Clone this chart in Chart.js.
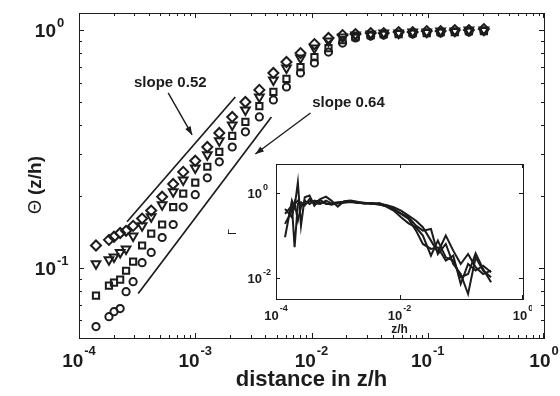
<!DOCTYPE html>
<html>
<head>
<meta charset="utf-8">
<script src="https://cdn.jsdelivr.net/npm/chart.js@4.4.1/dist/chart.umd.min.js"></script>
<style>
  html, body { margin: 0; padding: 0; background: #fff; }
  #wrap { position: relative; width: 560px; height: 396px; }
  #main { position: absolute; left: 0; top: 0; }
  #inset { position: absolute; left: 222px; top: 158px; }
</style>
</head>
<body>
<div id="wrap">
  <canvas id="main" width="560" height="396"></canvas>
  <canvas id="inset" width="310" height="182"></canvas>
</div>
<script>
// --- Data: distance z/h and the four Theta profiles ---
const zh = [1.40e-4, 1.81e-4, 2.00e-4, 2.26e-4, 2.54e-4, 2.92e-4, 3.49e-4, 4.18e-4, 5.19e-4, 6.46e-4, 7.88e-4,
            1.00e-3, 1.27e-3, 1.61e-3, 2.08e-3, 2.70e-3, 3.56e-3, 4.70e-3, 6.09e-3, 8.04e-3,
            1.06e-2, 1.40e-2, 1.85e-2, 2.39e-2, 3.23e-2, 4.18e-2, 5.62e-2, 7.42e-2, 9.80e-2,
            0.129, 0.171, 0.226, 0.304];

const thetaCircle = [0.0565, 0.0622, 0.0653, 0.0673, 0.0793, 0.0873, 0.105, 0.116, 0.134, 0.152, 0.180,
                     0.203, 0.239, 0.279, 0.322, 0.373, 0.431, 0.508, 0.576, 0.660,
                     0.727, 0.808, 0.882, 0.926, 0.944, 0.953, 0.962, 0.962, 0.971, 0.971, 0.981, 0.981, 0.990];
const thetaSquare = [0.0763, 0.0840, 0.0865, 0.0890, 0.0971, 0.106, 0.124, 0.139, 0.152, 0.180, 0.205,
                     0.228, 0.266, 0.307, 0.359, 0.411, 0.479, 0.549, 0.623, 0.699,
                     0.770, 0.840, 0.908, 0.935, 0.953, 0.962, 0.962, 0.971, 0.971, 0.981, 0.981, 0.990, 0.990];
const thetaTriangle = [0.104, 0.108, 0.111, 0.116, 0.120, 0.136, 0.150, 0.164, 0.184, 0.209, 0.234,
                       0.263, 0.299, 0.342, 0.399, 0.461, 0.523, 0.617, 0.692, 0.763,
                       0.840, 0.899, 0.935, 0.953, 0.962, 0.971, 0.971, 0.981, 0.981, 0.990, 0.990, 1.00, 1.00];
const thetaDiamond = [0.124, 0.131, 0.135, 0.140, 0.143, 0.150, 0.161, 0.174, 0.199, 0.225, 0.253,
                      0.282, 0.322, 0.369, 0.431, 0.498, 0.560, 0.660, 0.734, 0.800,
                      0.873, 0.926, 0.953, 0.962, 0.971, 0.971, 0.981, 0.981, 0.990, 0.990, 1.00, 1.00, 1.01];

// reference power-law segments
const slope052X = [2.59e-4, 2.21e-3];
const slope052Y = [0.156, 0.523];
const slope064X = [3.23e-4, 4.52e-3];
const slope064Y = [0.0778, 0.431];

// inset: Gamma for the same four profiles
const gammaA = [0.0906, 0.660, 0.460, 1.78, 0.170, 0.791, 0.866, 0.504, 0.722, 0.820, 0.660,
                0.477, 0.637, 0.660, 0.625, 0.571, 0.551, 0.582, 0.504, 0.420,
                0.332, 0.268, 0.170, 0.130, 0.142, 0.0367, 0.0631, 0.0213, 0.0124, 0.0042, 0.0306, 0.0149, 0.0104];
const gammaB = [0.321, 0.504, 0.0527, 0.551, 0.603, 0.504, 0.722, 0.571, 0.551, 0.660, 0.571,
                0.603, 0.625, 0.637, 0.603, 0.582, 0.571, 0.551, 0.522, 0.460,
                0.384, 0.293, 0.223, 0.156, 0.0756, 0.0402, 0.0991, 0.0440, 0.0213, 0.0367, 0.0178, 0.0124, 0.0149];
const gammaC = [0.187, 0.384, 0.603, 0.223, 0.460, 0.660, 0.551, 0.660, 0.603, 0.571, 0.531,
                0.571, 0.614, 0.625, 0.592, 0.561, 0.582, 0.541, 0.477, 0.384,
                0.268, 0.193, 0.156, 0.0991, 0.0335, 0.0756, 0.0306, 0.0256, 0.0104, 0.0124, 0.0380, 0.0163, 0.0079];
const gammaD = [0.420, 0.268, 0.551, 0.660, 0.504, 0.551, 0.637, 0.603, 0.684, 0.551, 0.551,
                0.571, 0.592, 0.614, 0.582, 0.592, 0.561, 0.531, 0.494, 0.398,
                0.321, 0.245, 0.130, 0.0631, 0.0481, 0.0527, 0.0256, 0.0335, 0.0072, 0.0213, 0.0149, 0.0195, 0.0136];

// tick decades (exponents of 10)
const xTickExps = [-4, -3, -2, -1, 0];
const yTickExps = [-1, 0];
const insetXTickExps = [-4, -2, 0];
const insetYTickExps = [-2, 0];

// annotation texts with arrows, in data coordinates
const slopeNotes = [
    { text: 'slope 0.52', at: [6.1e-4, 0.576], from: [5.85e-4, 0.544], to: [9.4e-4, 0.362] },
    { text: 'slope 0.64', at: [2.08e-2, 0.475], from: [9.8e-3, 0.448], to: [3.29e-3, 0.301] },
];

const INK = '#1c1c1c';
const FONT = '"Liberation Sans", Arial, Helvetica, sans-serif';

const toPoints = (xs, ys) => xs.map((x, i) => ({ x: x, y: ys[i] }));

// log axis whose only visible part is its border line; labels and ticks come from the plugins
function frameAxis(position, axis, min, max) {
    return {
        type: 'logarithmic',
        position: position,
        axis: axis,
        min: min,
        max: max,
        grid: { display: false, drawTicks: false },
        ticks: { display: false },
        border: { display: true, color: INK, width: 1 },
        title: { display: false },
    };
}

// "10" with a raised exponent
function drawPow(ctx, exp, x, y, baseSize, expSize, raise, align) {
    const base = '10';
    const sup = String(exp);
    ctx.font = `bold ${baseSize}px ${FONT}`;
    const wb = ctx.measureText(base).width;
    ctx.font = `bold ${expSize}px ${FONT}`;
    const we = ctx.measureText(sup).width;
    let start = x;
    if (align === 'center') start = x - (wb + we + 1) / 2;
    if (align === 'right') start = x - wb;
    ctx.textAlign = 'left';
    ctx.textBaseline = 'alphabetic';
    ctx.font = `bold ${baseSize}px ${FONT}`;
    ctx.fillText(base, start, y);
    ctx.font = `bold ${expSize}px ${FONT}`;
    ctx.fillText(sup, start + wb + 1, y - raise);
}

// inward log ticks along all four sides
function drawTicks(ctx, a, xs, ys, xExps, yExps, majorLen, minorLen, withMinor) {
    const L = Math.round(a.left), R = Math.round(a.right) - 1;
    const T = Math.round(a.top), B = Math.round(a.bottom) - 1;
    ctx.beginPath();
    xExps.forEach(k => {
        for (let m = 1; m <= 9; m++) {
            if (m > 1 && !withMinor) break;
            const v = m * Math.pow(10, k);
            if (v < xs.min || v > xs.max) continue;
            const px = Math.min(R, Math.round(xs.getPixelForValue(v))) + 0.5;
            const len = m === 1 ? majorLen : minorLen;
            ctx.moveTo(px, B + 1); ctx.lineTo(px, B + 1 - len);
            ctx.moveTo(px, T); ctx.lineTo(px, T + len);
        }
    });
    yExps.forEach(k => {
        for (let m = 1; m <= 9; m++) {
            if (m > 1 && !withMinor) break;
            const v = m * Math.pow(10, k);
            if (v < ys.min || v > ys.max) continue;
            const py = Math.min(B, Math.round(ys.getPixelForValue(v))) + 0.5;
            const len = m === 1 ? majorLen : minorLen;
            ctx.moveTo(L, py); ctx.lineTo(L + len, py);
            ctx.moveTo(R + 1, py); ctx.lineTo(R + 1 - len, py);
        }
    });
    ctx.stroke();
}

function drawArrow(ctx, x0, y0, x1, y1) {
    const ang = Math.atan2(y1 - y0, x1 - x0);
    const head = 9;
    ctx.beginPath();
    ctx.moveTo(x0, y0);
    ctx.lineTo(x1, y1);
    ctx.stroke();
    ctx.beginPath();
    ctx.moveTo(x1, y1);
    ctx.lineTo(x1 - head * Math.cos(ang - 0.35), y1 - head * Math.sin(ang - 0.35));
    ctx.lineTo(x1 - head * Math.cos(ang + 0.35), y1 - head * Math.sin(ang + 0.35));
    ctx.closePath();
    ctx.fill();
}

// --- Main plot ticks, labels and notes ---
const mainLabels = {
    id: 'mainLabels',
    afterDraw(chart) {
        const { ctx, chartArea: a, scales: { x, y } } = chart;
        ctx.save();
        ctx.strokeStyle = INK;
        ctx.fillStyle = INK;
        ctx.lineWidth = 1;
        drawTicks(ctx, a, x, y, [-4, -3, -2, -1, 0], [-2, -1, 0], 5, 3, true);

        xTickExps.forEach(k => {
            drawPow(ctx, k, x.getPixelForValue(Math.pow(10, k)), a.bottom + 29, 19, 13, 12, 'center');
        });
        yTickExps.forEach(k => {
            drawPow(ctx, k, a.left - 23, y.getPixelForValue(Math.pow(10, k)) + 7, 19, 13, 10, 'right');
        });

        ctx.textAlign = 'center';
        ctx.font = `bold 22px ${FONT}`;
        ctx.fillText('distance in z/h', (a.left + a.right) / 2, 386);

        // y-axis title
        ctx.save();
        ctx.translate(41, 185);
        ctx.rotate(-Math.PI / 2);
        ctx.font = `18px ${FONT}`;
        const wTheta = ctx.measureText('\u0398 ').width;
        ctx.font = `bold 19px ${FONT}`;
        const wRest = ctx.measureText('(z/h)').width;
        const s = -(wTheta + wRest) / 2;
        ctx.textAlign = 'left';
        ctx.font = `18px ${FONT}`;
        ctx.fillText('\u0398 ', s, 0);
        ctx.font = `bold 19px ${FONT}`;
        ctx.fillText('(z/h)', s + wTheta, 0);
        ctx.restore();

        ctx.lineWidth = 1.4;
        ctx.textAlign = 'center';
        ctx.font = `bold 15px ${FONT}`;
        slopeNotes.forEach(n => {
            ctx.fillText(n.text, x.getPixelForValue(n.at[0]), y.getPixelForValue(n.at[1]));
            drawArrow(ctx,
                x.getPixelForValue(n.from[0]), y.getPixelForValue(n.from[1]),
                x.getPixelForValue(n.to[0]), y.getPixelForValue(n.to[1]));
        });
        ctx.restore();
    }
};

const marker = {
    showLine: false,
    borderColor: INK,
    backgroundColor: 'rgba(0,0,0,0)',
    pointBorderWidth: 2,
};

new Chart(document.getElementById('main'), {
    type: 'scatter',
    data: {
        datasets: [
            { ...marker, data: toPoints(zh, thetaCircle), pointStyle: 'circle', pointRadius: 3.6 },
            { ...marker, data: toPoints(zh, thetaSquare), pointStyle: 'rect', pointRadius: 4.4 },
            { ...marker, data: toPoints(zh, thetaTriangle), pointStyle: 'triangle', pointRotation: 180, pointRadius: 5 },
            { ...marker, data: toPoints(zh, thetaDiamond), pointStyle: 'rectRot', pointRadius: 5 },
            { data: toPoints(slope052X, slope052Y), showLine: true, borderColor: INK, borderWidth: 1.7, pointRadius: 0 },
            { data: toPoints(slope064X, slope064Y), showLine: true, borderColor: INK, borderWidth: 1.7, pointRadius: 0 },
        ]
    },
    options: {
        responsive: false,
        animation: false,
        layout: { padding: { left: 79, right: 16, top: 13, bottom: 58 } },
        plugins: { legend: { display: false }, tooltip: { enabled: false } },
        scales: {
            x: frameAxis('bottom', 'x', 1e-4, 1),
            xTop: frameAxis('top', 'x', 1e-4, 1),
            y: frameAxis('left', 'y', 0.0506, 1.18),
            yRight: frameAxis('right', 'y', 0.0506, 1.18),
        }
    },
    plugins: [mainLabels]
});

// --- Inset: Gamma vs z/h ---
const insetFrame = {
    id: 'insetFrame',
    beforeDatasetsDraw(chart) {
        const { ctx, chartArea: a } = chart;
        ctx.save();
        ctx.fillStyle = '#fff';
        ctx.fillRect(a.left + 1, a.top + 1, a.right - a.left - 2, a.bottom - a.top - 2);
        ctx.restore();
    },
    afterDraw(chart) {
        const { ctx, chartArea: a, scales: { x, y } } = chart;
        ctx.save();
        ctx.strokeStyle = INK;
        ctx.fillStyle = INK;
        ctx.lineWidth = 1;
        drawTicks(ctx, a, x, y, insetXTickExps, insetYTickExps, 4, 2, false);

        insetXTickExps.forEach(k => {
            drawPow(ctx, k, x.getPixelForValue(Math.pow(10, k)), a.bottom + 21, 13, 9, 9, 'center');
        });
        insetYTickExps.forEach(k => {
            drawPow(ctx, k, a.left - 14, y.getPixelForValue(Math.pow(10, k)) + 5, 13, 9, 8, 'right');
        });

        ctx.textAlign = 'center';
        ctx.font = `bold 12px ${FONT}`;
        ctx.fillText('z/h', (a.left + a.right) / 2, a.bottom + 34);

        ctx.save();
        ctx.translate(14, 74);
        ctx.rotate(-Math.PI / 2);
        ctx.font = `11px ${FONT}`;
        ctx.fillText('\u0393', 0, 0);
        ctx.restore();
        ctx.restore();
    }
};

const gammaLine = { borderColor: INK, borderWidth: 2, pointRadius: 0, tension: 0, fill: false };

new Chart(document.getElementById('inset'), {
    type: 'line',
    data: {
        datasets: [
            { ...gammaLine, data: toPoints(zh, gammaA) },
            { ...gammaLine, data: toPoints(zh, gammaB) },
            { ...gammaLine, data: toPoints(zh, gammaC) },
            { ...gammaLine, data: toPoints(zh, gammaD) },
        ]
    },
    options: {
        responsive: false,
        animation: false,
        layout: { padding: { left: 54, right: 9, top: 6, bottom: 41 } },
        plugins: { legend: { display: false }, tooltip: { enabled: false } },
        scales: {
            x: frameAxis('bottom', 'x', 1e-4, 1),
            xTop: frameAxis('top', 'x', 1e-4, 1),
            y: frameAxis('left', 'y', 0.0032, 4.8),
            yRight: frameAxis('right', 'y', 0.0032, 4.8),
        }
    },
    plugins: [insetFrame]
});
</script>
</body>
</html>
